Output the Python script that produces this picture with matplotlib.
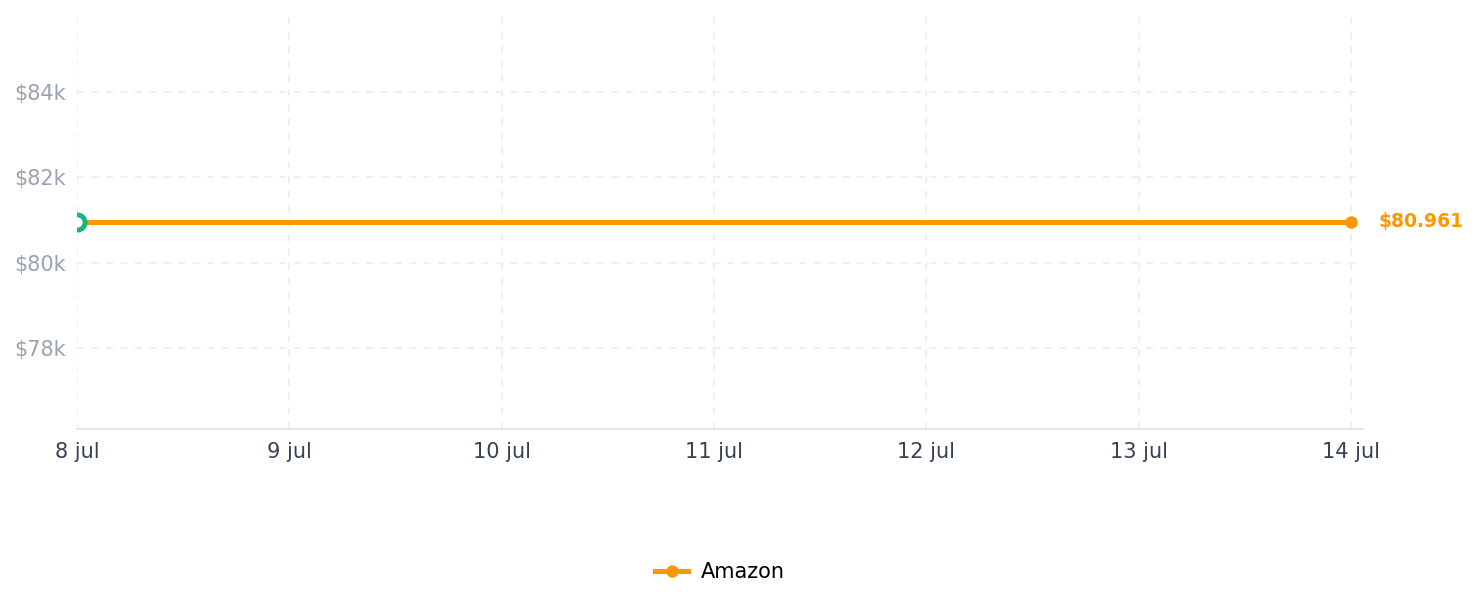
import numpy as np
import matplotlib.pyplot as plt

dates = ['8 jul', '9 jul', '10 jul', '11 jul', '12 jul', '13 jul', '14 jul']
amazon = [80961, 80961, 80961, 80961, 80961, 80961, 80961]
yticks = [78000, 80000, 82000, 84000]
ytick_labels = ['$78k', '$80k', '$82k', '$84k']

orange = '#ff9800'
green = '#10b981'

fig = plt.figure(figsize=(14.78, 6.07), dpi=100)
ax = fig.add_axes([77 / 1478, 1 - 429 / 607, (1363 - 77) / 1478, (429 - 15) / 607])

x = np.arange(len(dates))
ax.plot(x, amazon, color=orange, lw=3.6, marker='o', ms=8,
        markevery=[len(x) - 1], label='Amazon', zorder=3)
# start point marker, half hidden by the axes edge
sc = ax.scatter([x[0]], [amazon[0]], s=120, facecolor='white', edgecolor=green,
                linewidth=3.5, zorder=4)
sc.set_clip_path(ax.patch)
ax.annotate('$80.961', (x[-1], amazon[-1]), xytext=(20, 0),
            textcoords='offset points', va='center', ha='left',
            color=orange, fontsize=13.5, fontweight='bold', annotation_clip=False)

ax.set_xlim(0, 6.056)
ax.set_ylim(76100, 85800)
ax.set_xticks(x)
ax.set_xticklabels(dates, fontsize=15, color='#374151')
ax.set_yticks(yticks)
ax.set_yticklabels(ytick_labels, fontsize=15, color='#9ca3af')
ax.tick_params(axis='y', length=0, pad=8)
ax.tick_params(axis='x', length=0, pad=9)

ax.grid(True, color='#eeeeee', linestyle=(0, (4, 4)), lw=1.3)
for s in ['top', 'right', 'left']:
    ax.spines[s].set_visible(False)
ax.spines['bottom'].set_color('#e0e0e6')
ax.spines['bottom'].set_linewidth(1.3)

fig.legend(loc='center', bbox_to_anchor=(0.487, 0.057), frameon=False,
           fontsize=15, handlelength=1.6, handletextpad=0.6)

fig.savefig('out.png', dpi=100)
